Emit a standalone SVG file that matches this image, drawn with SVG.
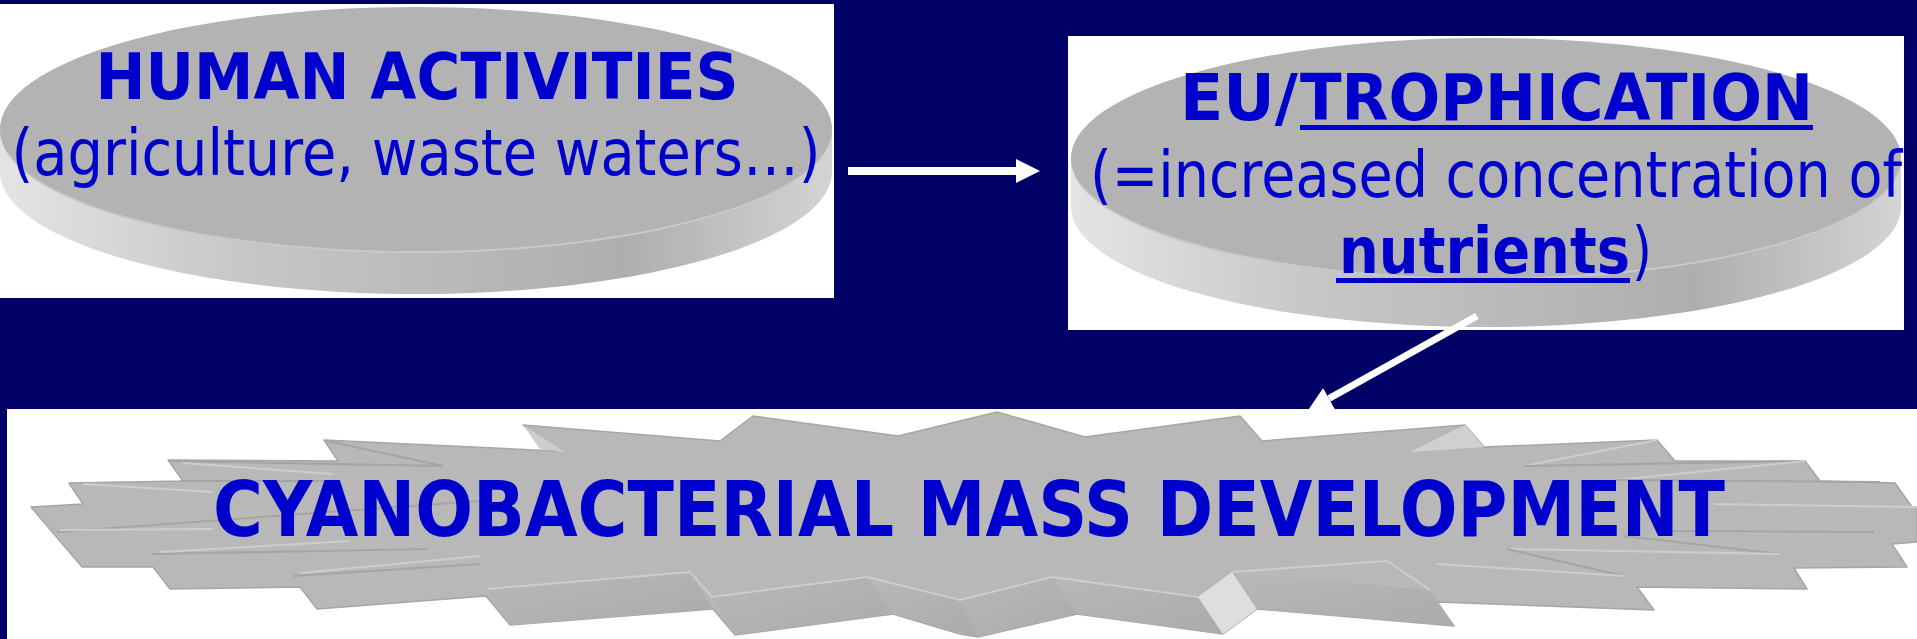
<svg xmlns="http://www.w3.org/2000/svg" width="1917" height="639" viewBox="0 0 1917 639">
<defs>
<linearGradient id="side" x1="0" y1="0" x2="1" y2="0">
<stop offset="0" stop-color="#E4E4E4"/>
<stop offset="0.3" stop-color="#C6C6C6"/>
<stop offset="0.75" stop-color="#AEAEAE"/>
<stop offset="1" stop-color="#D4D4D4"/>
</linearGradient>
<linearGradient id="face" x1="0" y1="0" x2="1" y2="1">
<stop offset="0" stop-color="#B8B8B8"/>
<stop offset="1" stop-color="#ABABAB"/>
</linearGradient>
<marker id="ah" viewBox="0 0 24 24" refX="0" refY="12" markerWidth="24" markerHeight="24" markerUnits="userSpaceOnUse" orient="auto">
<path d="M0,0 L24,12 L0,24 Z" fill="#FFFFFF"/>
</marker>
</defs>
<style>
.bold{font-family:"DejaVu Sans","Liberation Sans",sans-serif;font-weight:bold;fill:#0000CC}
.reg{font-family:"DejaVu Sans","Liberation Sans",sans-serif;fill:#0000CC}
.top{fill:#B3B3B3}
.rim{fill:url(#side)}
.hl{stroke:#CDCDCD;stroke-width:2;fill:none}
.dk{stroke:#A4A4A4;stroke-width:2;fill:none}
.sf{fill:url(#face)}
</style>
<rect x="0" y="0" width="1917" height="639" fill="#000066"/>

<g id="human-activities">
<rect x="0" y="4" width="834" height="294" fill="#FFFFFF"/>
<ellipse cx="416" cy="172" rx="416" ry="122" class="rim"/>
<rect x="0" y="129" width="832" height="43" class="rim"/>
<ellipse cx="416" cy="131" rx="416" ry="122" fill="#C9C9C9"/>
<ellipse cx="416" cy="129" rx="416" ry="122" class="top"/>
<text x="417" y="99" text-anchor="middle" class="bold" font-size="64" textLength="643" lengthAdjust="spacingAndGlyphs">HUMAN ACTIVITIES</text>
<text x="416" y="175" text-anchor="middle" class="reg" font-size="64" textLength="809" lengthAdjust="spacingAndGlyphs">(agriculture, waste waters…)</text>
</g>

<g id="eutrophication">
<rect x="1068" y="36" width="836" height="294" fill="#FFFFFF"/>
<ellipse cx="1486" cy="207" rx="415" ry="120" class="rim"/>
<rect x="1071" y="158" width="830" height="49" class="rim"/>
<ellipse cx="1486" cy="160" rx="415" ry="120" fill="#C9C9C9"/>
<ellipse cx="1486" cy="158" rx="415" ry="120" class="top"/>
<text x="1180" y="120" class="bold" font-size="64" textLength="118" lengthAdjust="spacingAndGlyphs">EU/</text>
<text x="1300" y="120" class="bold" font-size="64" textLength="513" lengthAdjust="spacingAndGlyphs">TROPHICATION</text>
<rect x="1300" y="125" width="513" height="5" fill="#0000CC"/>
<text x="1090" y="197" class="reg" font-size="64" textLength="812" lengthAdjust="spacingAndGlyphs">(=increased concentration of</text>
<text x="1339" y="273" class="bold" font-size="64" textLength="291" lengthAdjust="spacingAndGlyphs">nutrients</text>
<text x="1632" y="273" class="reg" font-size="64" textLength="20" lengthAdjust="spacingAndGlyphs">)</text>
<rect x="1336" y="278" width="294" height="5" fill="#0000CC"/>
</g>

<g id="cyanobacterial-mass-development">
<rect x="7" y="409" width="1910" height="230" fill="#FFFFFF"/>
<polygon points="31,507 83,504 69,483 183,481 168,460 338,461 324,440 555,451 523,425 720,441 753,416 898,436 997,412 1085,437 1240,416 1262,441 1465,425 1484,447 1657,440 1675,461 1805,461 1820,481 1895,483 1912,507 1917,507 1917,542 1892,544 1907,567 1794,568 1807,589 1637,587 1654,610 1437,602 1454,626 1257,609 1223,634 1077,614 978,637 960,634 893,614 735,635 713,609 510,625 486,596 317,609 300,587 170,589 153,567 82,567" fill="#B8B8B8" stroke="#A6A6A6" stroke-width="1.5" stroke-linejoin="round"/>
<polygon points="523,425 540,449 565,452" fill="#CDCDCD"/>
<polygon points="1410,452 1465,425 1484,447" fill="#D0D0D0"/>
<polygon points="487,589 690,572 713,609 510,625" class="sf"/>
<polygon points="712,597 867,577 893,614 735,635" class="sf"/>
<polygon points="867,577 960,600 978,637 893,614" class="sf"/>
<polygon points="960,600 1052,577 1077,614 978,637" class="sf"/>
<polygon points="1052,577 1198,597 1223,634 1077,614" class="sf"/>
<polygon points="1198,597 1232,572 1257,609 1223,634" fill="#DEDEDE"/>
<polygon points="1232,572 1430,590 1454,626 1257,609" class="sf"/>
<polyline points="487,589 690,572 712,597 867,577 960,600 1052,577 1198,597" class="hl"/>
<polyline points="1232,572 1387,561 1430,590" class="hl"/>
<line x1="180" y1="481" x2="333" y2="481" class="dk"/>
<line x1="83" y1="484" x2="213" y2="492" class="hl"/>
<line x1="168" y1="461" x2="443" y2="466" class="dk"/>
<line x1="183" y1="463" x2="333" y2="474" class="hl"/>
<line x1="327" y1="441" x2="443" y2="466" class="dk"/>
<line x1="57" y1="532" x2="480" y2="501" class="dk"/>
<line x1="60" y1="530" x2="213" y2="529" class="hl"/>
<line x1="153" y1="554" x2="427" y2="549" class="dk"/>
<line x1="160" y1="552" x2="350" y2="541" class="hl"/>
<line x1="293" y1="576" x2="480" y2="564" class="dk"/>
<line x1="300" y1="573" x2="480" y2="556" class="hl"/>
<line x1="1524" y1="466" x2="1657" y2="440" class="hl"/>
<line x1="1524" y1="466" x2="1804" y2="461" class="dk"/>
<line x1="1617" y1="480" x2="1805" y2="461" class="hl"/>
<line x1="1617" y1="480" x2="1880" y2="482" class="dk"/>
<line x1="1714" y1="504" x2="1917" y2="507" class="hl"/>
<line x1="1667" y1="531" x2="1874" y2="532" class="dk"/>
<line x1="1624" y1="536" x2="1780" y2="554" class="dk"/>
<line x1="1507" y1="549" x2="1780" y2="554" class="hl"/>
<line x1="1507" y1="549" x2="1624" y2="576" class="dk"/>
<line x1="1437" y1="564" x2="1624" y2="576" class="hl"/>
<text x="969" y="536" text-anchor="middle" class="bold" font-size="77" textLength="1512" lengthAdjust="spacingAndGlyphs">CYANOBACTERIAL MASS DEVELOPMENT</text>
</g>

<g id="connectors">
<line x1="848" y1="171" x2="1016" y2="171" stroke="#FFFFFF" stroke-width="8" marker-end="url(#ah)"/>
<line x1="1477" y1="316" x2="1329" y2="398.5" stroke="#FFFFFF" stroke-width="7" marker-end="url(#ah)"/>
</g>
</svg>
